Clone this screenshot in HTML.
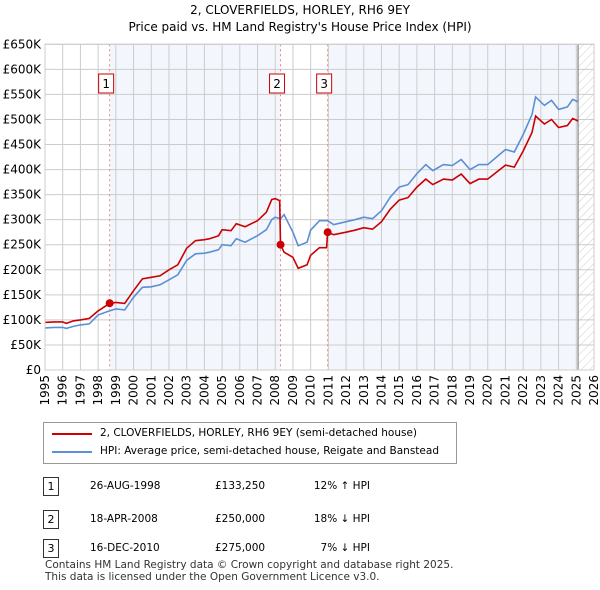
<!DOCTYPE html>
<html><head><meta charset="utf-8"><style>
body{margin:0;background:#fff;font-family:"DejaVu Sans",sans-serif;}
#w{position:relative;width:600px;height:590px;overflow:hidden;}
.t{position:absolute;font-size:12px;color:#000;white-space:nowrap;}
svg text{font-family:"DejaVu Sans",sans-serif;}
</style></head><body><div id="w">
<div class="t" style="left:0;width:600px;text-align:center;top:3px;font-size:12px">2, CLOVERFIELDS, HORLEY, RH6 9EY</div>
<div class="t" style="left:0;width:600px;text-align:center;top:20px;font-size:12px">Price paid vs. HM Land Registry's House Price Index (HPI)</div>
<svg id="s" width="600" height="420" style="position:absolute;left:0;top:0"></svg>
<div style="position:absolute;left:43px;top:422px;width:412px;height:40px;border:1px solid #999;background:#fff"></div>
<svg width="600" height="470" style="position:absolute;left:0;top:0">
<line x1="52" y1="434" x2="92" y2="434" stroke="#cc0000" stroke-width="2"/>
<line x1="52" y1="452" x2="92" y2="452" stroke="#5b8fd6" stroke-width="2"/>
</svg>
<div class="t" style="left:100px;top:427px;font-size:10.5px">2, CLOVERFIELDS, HORLEY, RH6 9EY (semi-detached house)</div>
<div class="t" style="left:100px;top:445px;font-size:10.5px">HPI: Average price, semi-detached house, Reigate and Banstead</div>
<div id="tbl"></div>
<div class="t" style="left:45px;top:559px;font-size:10.5px;color:#333;line-height:12px">Contains HM Land Registry data © Crown copyright and database right 2025.<br>This data is licensed under the Open Government Licence v3.0.</div>
</div>
<script>
const hpiT=[1995,1995.5,1996,1996.2,1996.6,1997,1997.5,1998,1998.65,1999,1999.5,2000,2000.5,2001,2001.5,2002,2002.5,2003,2003.5,2004,2004.3,2004.8,2005,2005.5,2005.8,2006.3,2007,2007.5,2007.8,2008,2008.3,2008.5,2009,2009.3,2009.8,2010,2010.5,2010.96,2011.3,2012,2012.5,2013,2013.5,2014,2014.5,2015,2015.5,2016,2016.5,2016.9,2017.5,2018,2018.5,2019,2019.5,2020,2020.5,2021,2021.5,2022,2022.5,2022.7,2023.2,2023.6,2024,2024.5,2024.8,2025.1];
const hpiV=[84,85,85,83,87,90,92,110,118,122,120,145,165,166,170,180,190,219,232,233,235,240,250,248,262,255,268,280,300,305,302,310,275,248,255,279,298,298,290,296,300,305,302,318,345,365,370,392,410,398,410,408,420,400,410,410,425,440,435,470,510,545,528,538,520,525,540,535];
const redT=[1995,1995.5,1996,1996.2,1996.6,1997,1997.5,1998,1998.65,1999,1999.5,2000,2000.5,2001,2001.5,2002,2002.5,2003,2003.5,2004,2004.3,2004.8,2005,2005.5,2005.8,2006.3,2007,2007.5,2007.8,2008,2008.25,2008.3,2008.5,2009,2009.3,2009.8,2010,2010.5,2010.9,2010.96,2011.3,2012,2012.5,2013,2013.5,2014,2014.5,2015,2015.5,2016,2016.5,2016.9,2017.5,2018,2018.5,2019,2019.5,2020,2020.5,2021,2021.5,2022,2022.5,2022.7,2023.2,2023.6,2024,2024.5,2024.8,2025.1];
const redV=[95,96,96,93,98,100,103,118,133,135,133,158,182,185,188,200,210,243,258,260,262,268,280,278,292,286,298,315,340,342,338,250,235,225,203,210,229,244,244,275,270,275,279,284,281,296,321,339,344,365,381,370,381,379,391,372,381,381,395,409,405,437,474,507,491,500,484,488,502,497];
const saleT=[1998.65,2008.3,2010.96];
const saleV=[133.25,250,275];
const saleLabels=["1","2","3"];
const yTicks=[0,50,100,150,200,250,300,350,400,450,500,550,600,650];
const yTickLabels=["£0","£50K","£100K","£150K","£200K","£250K","£300K","£350K","£400K","£450K","£500K","£550K","£600K","£650K"];
const xYears=[1995,1996,1997,1998,1999,2000,2001,2002,2003,2004,2005,2006,2007,2008,2009,2010,2011,2012,2013,2014,2015,2016,2017,2018,2019,2020,2021,2022,2023,2024,2025,2026];
const tableDates=["26-AUG-1998","18-APR-2008","16-DEC-2010"];
const tablePrices=["£133,250","£250,000","£275,000"];
const tableHpi=["12% ↑ HPI","18% ↓ HPI","7% ↓ HPI"];
const L=45,R=594,T=44.3,B=370;
const X=t=>L+(t-1995)/(2026-1995)*(R-L);
const Y=v=>B-v/650*(B-T);
const s=document.getElementById('s');const NS='http://www.w3.org/2000/svg';
function el(tag,a,p){const e=document.createElementNS(NS,tag);for(const k in a)e.setAttribute(k,a[k]);(p||s).appendChild(e);return e;}
const defs=el('defs',{});
const pat=el('pattern',{id:'h',width:6,height:6,patternUnits:'userSpaceOnUse',patternTransform:'rotate(45)'},defs);
el('line',{x1:0,y1:0,x2:0,y2:6,stroke:'#ccc','stroke-width':1},pat);
let r=el('rect',{x:X(saleT[0]),y:T,width:X(saleT[1])-X(saleT[0]),height:B-T,fill:'#eef3fc',opacity:0.7});

r=el('rect',{x:X(saleT[2]),y:T,width:X(2025.1)-X(saleT[2]),height:B-T,fill:'#eef3fc',opacity:0.7});

r=el('rect',{x:X(2025.1),y:T,width:R-X(2025.1),height:B-T,fill:'url(#h)'});

yTicks.forEach((v,i)=>{el('line',{x1:L,x2:R,y1:Y(v),y2:Y(v),stroke:'#ccc'});
const t=el('text',{x:L-4,y:Y(v)+4,'text-anchor':'end','font-size':12,fill:'#000'});t.textContent=yTickLabels[i];
});
xYears.forEach(y=>{el('line',{x1:X(y),x2:X(y),y1:T,y2:B,stroke:'#ccc'});
const t=el('text',{x:0,y:0,'text-anchor':'end','font-size':12,fill:'#000',transform:`translate(${X(y)+4},${B+5}) rotate(-90)`});t.textContent=y;
});
el('line',{x1:X(2025.1),x2:X(2025.1),y1:T,y2:B,stroke:'#888','stroke-width':1.2});
saleT.forEach((t,i)=>{const l=el('line',{x1:X(t),x2:X(t),y1:T,y2:B,stroke:'#f08080','stroke-dasharray':'2,3'});
});
const pts=(ts,vs)=>ts.map((t,i)=>X(t).toFixed(1)+','+Y(vs[i]).toFixed(1)).join(' ');
let p=el('polyline',{points:pts(hpiT,hpiV),fill:'none',stroke:'#5b8fd6','stroke-width':1.6});

p=el('polyline',{points:pts(redT,redV),fill:'none',stroke:'#cc0000','stroke-width':1.6});

saleT.forEach((t,i)=>{const c=el('circle',{cx:X(t),cy:Y(saleV[i]),r:4,fill:'#cc0000'});

const b=el('rect',{x:X(t)-11,y:74,width:15,height:19,fill:'#fff',stroke:'#cc0000'});

const tx=el('text',{x:X(t)-3.5,y:88,'text-anchor':'middle','font-size':12});tx.textContent=saleLabels[i];});
el('rect',{x:L,y:T,width:R-L,height:B-T,fill:'none',stroke:'#ccc'});
const tb=document.getElementById('tbl');const rowsY=[477,510,539];
saleLabels.forEach((lab,i)=>{
const b=document.createElement('div');
b.style.cssText=`position:absolute;left:43px;top:${rowsY[i]}px;width:14px;height:17px;border:1px solid #333;font-size:11px;text-align:center;line-height:17px`;b.textContent=lab;tb.appendChild(b);
[[tableDates[i],90],[tablePrices[i],215],[tableHpi[i],305]].forEach(([txt,x])=>{const d=document.createElement('div');d.className='t';

d.style.cssText=`left:${x}px;top:${rowsY[i]+3}px;font-size:10.5px;`+(x==305?'width:65px;text-align:right':'');d.textContent=txt;tb.appendChild(d);});});
</script></body></html>
